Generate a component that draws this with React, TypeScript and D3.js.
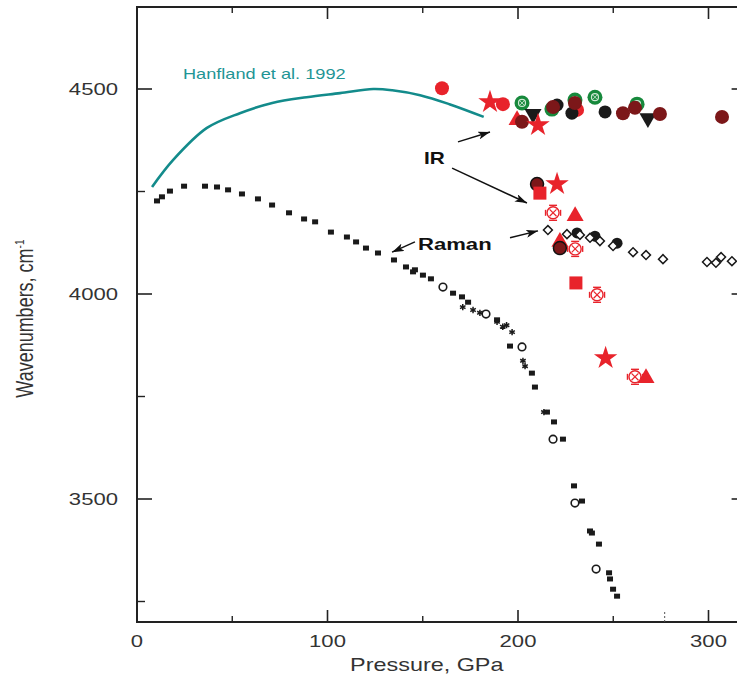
import React from "react";
import * as d3 from "d3";

// ---------- data (pressure GPa, wavenumber cm-1) ----------
const hanfland: [number, number][] = [
  [7.9, 4261], [19, 4327], [36.7, 4405], [54, 4441], [71, 4466], [89, 4480],
  [106.6, 4490], [124, 4500], [134, 4497], [148.6, 4485], [164, 4463], [182, 4432],
];

const ramanSquares: [number, number][] = [
  [10.5, 4227], [13.1, 4237], [17.3, 4251], [24.7, 4263], [35.7, 4263], [42, 4261],
  [47.8, 4254], [55.1, 4244], [63.5, 4232], [70.9, 4217], [79.8, 4198], [87.7, 4183],
  [93.5, 4176], [101.8, 4151], [110.2, 4139], [115, 4127], [120.2, 4112], [126.5, 4100],
  [134.9, 4083], [141.2, 4066], [145.9, 4059], [144.9, 4054], [150.1, 4046], [154.3, 4037],
  [165.9, 4002], [170.6, 3993], [173.8, 3980], [189, 3937], [195.8, 3873], [207.3, 3807],
  [208.9, 3773], [215.2, 3712], [218.9, 3688], [223.6, 3646], [229.4, 3532], [233.6, 3495],
  [237.8, 3422], [238.8, 3417], [242.5, 3390], [247.8, 3320], [248.3, 3305], [249.9, 3280],
  [252, 3263],
];

const ramanOpenCircles: [number, number][] = [
  [160.6, 4017], [183.2, 3951], [202.1, 3871], [218.4, 3646], [229.9, 3490], [241, 3329],
];

const ramanAsterisks: [number, number][] = [
  [171, 3968], [176.4, 3961], [180, 3954], [189, 3932], [192, 3920], [194, 3924],
  [196.9, 3907], [202.6, 3837], [203.7, 3824], [213.6, 3712],
];

const ramanDiamonds: [number, number][] = [
  [215.7, 4156], [225.7, 4146], [232.5, 4144], [237.8, 4137], [243, 4129], [249.9, 4117],
  [260.4, 4102], [267.2, 4095], [276.1, 4085], [299.2, 4078], [303.9, 4076], [306.6, 4090],
  [312.3, 4080],
];

const ramanBlackCircles: [number, number][] = [
  [231, 4149], [240.4, 4141], [252, 4124],
];

// IR high-frequency cluster
const irRedCircles: [number, number][] = [[160.1, 4502], [192.1, 4463], [231, 4449]];
const irBlackCircles: [number, number][] = [[228.3, 4441], [220.5, 4461], [245.7, 4444]];
const irGreen: [number, number][] = [[202.1, 4466], [217.8, 4451], [229.9, 4473], [240.4, 4480], [262.5, 4463]];
const irDarkRed: [number, number][] = [
  [202.1, 4420], [218.4, 4456], [229.9, 4466], [255.1, 4441], [261.4, 4454], [274.5, 4439], [307.1, 4432],
];
const irDownTriangles: [number, number][] = [[207.9, 4439], [268.2, 4429]];
const irRedStars: [number, number][] = [[185.3, 4468], [210.5, 4412], [220.5, 4268], [246, 3844]];
const irRedTriangles: [number, number][] = [[199.5, 4424], [230, 4190], [222, 4127], [267.2, 3795]];
const irOutlinedDark: [number, number][] = [[210, 4268], [222, 4112]];
const irRedSquares: [number, number][] = [[211.5, 4246], [230.4, 4027]];
const irCrossed: [number, number][] = [[218.4, 4198], [230, 4110], [241.5, 3998], [261.4, 3798]];

// annotations
const arrows: [number, number, number, number][] = [
  [168.5, 4371, 185.3, 4395],
  [165.4, 4307, 204.7, 4222],
  [195.8, 4137, 210.5, 4154],
  [145.9, 4127, 133.9, 4102],
];
const labels: { text: string; p: number; v: number; bold: boolean; color: string; size: number }[] = [
  { text: "IR", p: 150.7, v: 4317, bold: true, color: "#111", size: 16 },
  { text: "Raman", p: 147.5, v: 4107, bold: true, color: "#111", size: 17 },
  { text: "Hanfland et al. 1992", p: 24.1, v: 4524, bold: false, color: "#1f9595", size: 14 },
];

const xMajor = [0, 100, 200, 300];
const xMinor = [50, 150, 250];
const yMajor = [3500, 4000, 4500];
const yMinor = [3250, 3750, 4250];

// ---------- layout ----------
const W = 737;
const H = 682;
const x = d3.scaleLinear().domain([0, 320]).range([137, 746.6]);
const y = d3.scaleLinear().domain([3200, 4700]).range([622, 7]);

const RED = "#e8232b";
const DARK = "#7c1719";
const GREEN = "#17893c";
const TEAL = "#138b8b";
const AX = "#222";
const STRETCH = 1.3;

const sym = (type: d3.SymbolType, size: number) => d3.symbol().type(type).size(size)() as string;

export default function App() {
  const line = d3.line<[number, number]>().x((d) => x(d[0])).y((d) => y(d[1])).curve(d3.curveCatmullRom);
  const starPath = sym(d3.symbolStar, 170);
  const triPath = sym(d3.symbolTriangle, 125);
  const diamondPath = sym(d3.symbolSquare, 40);
  const astPath = sym(d3.symbolAsterisk, 28);
  const timesPath = sym(d3.symbolTimes, 45);
  const x0 = x.range()[0];
  const x1 = x.range()[1];
  const yb = y.range()[0];
  const yt = y.range()[1];

  return (
    <svg
      width={W}
      height={H}
      style={{ position: "absolute", left: 0, top: 0, background: "#fff" }}
      fontFamily="'Liberation Sans', Arial, sans-serif"
    >
      <defs>
        <marker id="ah" viewBox="0 0 12 8" refX="12" refY="4" markerWidth="12" markerHeight="8" markerUnits="userSpaceOnUse" orient="auto">
          <path d="M0,0 L12,4 L0,8 L3,4 z" fill="#111" />
        </marker>
      </defs>

      {/* frame */}
      <rect x={x0} y={yt} width={x1 - x0} height={yb - yt} fill="none" stroke={AX} strokeWidth={2} />

      {/* y ticks */}
      {yMajor.map((v) => (
        <g key={"ym" + v}>
          <line x1={x0} x2={x0 + 15} y1={y(v)} y2={y(v)} stroke={AX} strokeWidth={1.6} />
          <line x1={x1} x2={x1 - 15} y1={y(v)} y2={y(v)} stroke={AX} strokeWidth={1.6} />
          <text
            transform={`translate(118,${y(v) + 6}) scale(${STRETCH},1)`}
            textAnchor="end"
            fontSize={17}
            fill="#333"
          >
            {v}
          </text>
        </g>
      ))}
      {yMinor.map((v) => (
        <g key={"yn" + v}>
          <line x1={x0} x2={x0 + 8} y1={y(v)} y2={y(v)} stroke={AX} strokeWidth={1.4} />
          <line x1={x1} x2={x1 - 8} y1={y(v)} y2={y(v)} stroke={AX} strokeWidth={1.4} />
        </g>
      ))}

      {/* x ticks */}
      {xMajor.map((p) => (
        <g key={"xm" + p}>
          <line x1={x(p)} x2={x(p)} y1={yb} y2={yb - 12} stroke={AX} strokeWidth={1.6} />
          <line x1={x(p)} x2={x(p)} y1={yt} y2={yt + 12} stroke={AX} strokeWidth={1.6} />
          <text
            transform={`translate(${x(p)},${yb + 25}) scale(${STRETCH},1)`}
            textAnchor="middle"
            fontSize={17}
            fill="#333"
          >
            {p}
          </text>
        </g>
      ))}
      {xMinor.map((p) => (
        <g key={"xn" + p}>
          <line x1={x(p)} x2={x(p)} y1={yb} y2={yb - 6} stroke={AX} strokeWidth={1.4} />
          <line x1={x(p)} x2={x(p)} y1={yt} y2={yt + 6} stroke={AX} strokeWidth={1.4} />
        </g>
      ))}
      <line x1={x(277)} x2={x(277)} y1={yb} y2={yb - 12} stroke="#555" strokeWidth={1} strokeDasharray="2,2" />

      {/* axis titles */}
      <text
        transform={`translate(${(x0 + x1) / 2 - 15},${yb + 49}) scale(${STRETCH},1)`}
        textAnchor="middle"
        fontSize={18}
        fill="#333"
      >
        Pressure, GPa
      </text>
      <text transform={`translate(33,${y(3940)}) scale(${STRETCH},1) rotate(-90)`} textAnchor="middle" fontSize={18} fill="#333">
        Wavenumbers, cm
        <tspan dy={-7} fontSize={10}>-1</tspan>
      </text>

      {/* Hanfland curve */}
      <path d={line(hanfland) as string} fill="none" stroke={TEAL} strokeWidth={2.6} />

      {/* Raman low-frequency branch */}
      {ramanSquares.map((d, i) => (
        <rect key={"rs" + i} x={x(d[0]) - 3} y={y(d[1]) - 2.5} width={6} height={5} fill="#1a1a1a" />
      ))}
      {ramanOpenCircles.map((d, i) => (
        <circle key={"ro" + i} cx={x(d[0])} cy={y(d[1])} r={3.8} fill="#fff" stroke="#1a1a1a" strokeWidth={1.6} />
      ))}
      {ramanAsterisks.map((d, i) => (
        <path key={"ra" + i} d={astPath} transform={`translate(${x(d[0])},${y(d[1])})`} fill="none" stroke="#1a1a1a" strokeWidth={1.5} />
      ))}

      {/* Raman high-pressure diamonds */}
      {ramanBlackCircles.map((d, i) => (
        <circle key={"rb" + i} cx={x(d[0])} cy={y(d[1])} r={5.5} fill="#1a1a1a" />
      ))}
      {ramanDiamonds.map((d, i) => (
        <path key={"rd" + i} d={diamondPath} transform={`translate(${x(d[0])},${y(d[1])}) rotate(45)`} fill="#fff" stroke="#1a1a1a" strokeWidth={1.5} />
      ))}

      {/* IR cluster */}
      {irGreen.map((d, i) => (
        <g key={"ig" + i} transform={`translate(${x(d[0])},${y(d[1])})`}>
          <circle r={7.5} fill={GREEN} />
          <circle r={3.5} fill="none" stroke="#cfe8d4" strokeWidth={1.2} />
          <path d={timesPath} transform="scale(0.6)" stroke="#cfe8d4" strokeWidth={1.4} fill="none" />
        </g>
      ))}
      {irRedCircles.map((d, i) => (
        <circle key={"ir" + i} cx={x(d[0])} cy={y(d[1])} r={7} fill={RED} />
      ))}
      {irBlackCircles.map((d, i) => (
        <circle key={"ib" + i} cx={x(d[0])} cy={y(d[1])} r={6.5} fill="#1a1a1a" />
      ))}
      {irRedTriangles.map((d, i) => (
        <path key={"it" + i} d={triPath} transform={`translate(${x(d[0])},${y(d[1])})`} fill={RED} />
      ))}
      {irDownTriangles.map((d, i) => (
        <path key={"id" + i} d={triPath} transform={`translate(${x(d[0])},${y(d[1])}) rotate(180)`} fill="#1a1a1a" />
      ))}
      {irDarkRed.map((d, i) => (
        <circle key={"ik" + i} cx={x(d[0])} cy={y(d[1])} r={7} fill={DARK} />
      ))}
      {irOutlinedDark.map((d, i) => (
        <circle key={"io" + i} cx={x(d[0])} cy={y(d[1])} r={6.5} fill={DARK} stroke="#111" strokeWidth={1.5} />
      ))}
      {irRedSquares.map((d, i) => (
        <rect key={"iq" + i} x={x(d[0]) - 6.5} y={y(d[1]) - 6.5} width={13} height={13} fill={RED} />
      ))}
      {irRedStars.map((d, i) => (
        <path key={"is" + i} d={starPath} transform={`translate(${x(d[0])},${y(d[1])})`} fill={RED} />
      ))}
      {irCrossed.map((d, i) => (
        <g key={"ic" + i} transform={`translate(${x(d[0])},${y(d[1])})`} stroke={RED} fill="none" strokeWidth={1.4}>
          <circle r={6} fill="#fff" />
          <path d={timesPath} transform="scale(0.85)" />
          <line x1={-4} x2={4} y1={-7.5} y2={-7.5} />
          <line x1={-4} x2={4} y1={7.5} y2={7.5} />
          <line x1={-7.5} x2={-7.5} y1={-3} y2={3} />
          <line x1={7.5} x2={7.5} y1={-3} y2={3} />
        </g>
      ))}

      {/* annotations */}
      {arrows.map((a, i) => (
        <line key={"ar" + i} x1={x(a[0])} y1={y(a[1])} x2={x(a[2])} y2={y(a[3])} stroke="#111" strokeWidth={1.5} markerEnd="url(#ah)" />
      ))}
      {labels.map((l, i) => (
        <text
          key={"lb" + i}
          transform={`translate(${x(l.p)},${y(l.v)}) scale(${STRETCH},1)`}
          fontSize={l.size}
          fontWeight={l.bold ? "bold" : "normal"}
          fill={l.color}
        >
          {l.text}
        </text>
      ))}
    </svg>
  );
}
